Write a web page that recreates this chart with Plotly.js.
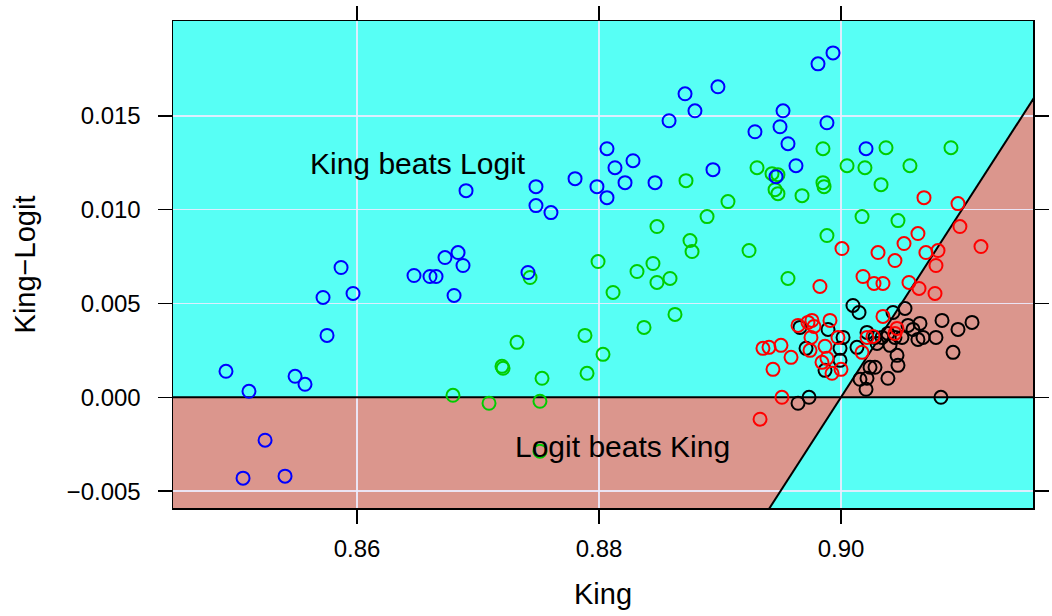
<!DOCTYPE html>
<html>
<head>
<meta charset="utf-8">
<script src="https://cdn.plot.ly/plotly-3.0.1.min.js"></script>
<style>html,body{margin:0;padding:0;background:#fff;}#chart{width:1052px;height:616px;}</style>
</head>
<body>
<div id="chart"></div>
<script>
// ---- data ----
const blueX = [0.86901,0.85868,0.86727,0.86835,0.86876,0.86471,0.86603,0.86653,0.86802,0.85719,0.85967,0.85752,0.84917,0.85107,0.85488,0.85570,0.85240,0.85058,0.85405,0.87413,0.88983,0.88711,0.88793,0.88579,0.88066,0.88281,0.88132,0.88942,0.87802,0.87479,0.87983,0.88215,0.88463,0.88066,0.87479,0.87603,0.89934,0.89810,0.89521,0.89496,0.89289,0.89884,0.89562,0.89628,0.90207,0.89463];
const blueY = [0.011011,0.006915,0.007447,0.007713,0.007021,0.006489,0.006436,0.006436,0.005426,0.005319,0.005532,0.003298,0.001383,0.000319,0.001117,0.000691,-0.002287,-0.004309,-0.004202,0.006649,0.016543,0.016170,0.015266,0.014734,0.013245,0.012606,0.012234,0.012128,0.011649,0.011223,0.011223,0.011436,0.011436,0.010638,0.010213,0.009840,0.018351,0.017766,0.015266,0.014415,0.014149,0.014628,0.013511,0.012340,0.013245,0.011755];

const greenX = [0.86793,0.87992,0.88314,0.88446,0.88479,0.88587,0.88752,0.88769,0.88116,0.88628,0.88372,0.87884,0.87322,0.88033,0.87198,0.87207,0.87529,0.87901,0.87091,0.87512,0.87512,0.87430,0.88719,0.89066,0.88893,0.88479,0.89851,0.90372,0.90909,0.89306,0.89430,0.89479,0.90050,0.90198,0.90570,0.89851,0.89860,0.90331,0.89455,0.89479,0.89678,0.90174,0.90471,0.89884,0.89240,0.89562];
const greenY = [0.000106,0.007234,0.006702,0.007128,0.006117,0.006330,0.008351,0.007766,0.005585,0.004415,0.003723,0.003298,0.002926,0.002287,0.001649,0.001543,0.001011,0.001277,-0.000319,-0.000213,-0.002872,0.006383,0.011543,0.010426,0.009628,0.009096,0.013245,0.013298,0.013298,0.012234,0.011915,0.011862,0.012340,0.012234,0.012340,0.011436,0.011223,0.011330,0.011064,0.010851,0.010745,0.009628,0.009415,0.008617,0.007819,0.006330];

const redX = [0.90686,0.90967,0.90983,0.90636,0.90521,0.90008,0.90306,0.90702,0.90802,0.91157,0.90446,0.90785,0.89826,0.90182,0.90273,0.90347,0.90562,0.90645,0.90777,0.90347,0.90463,0.90446,0.90264,0.90215,0.90174,0.89645,0.89727,0.89760,0.89777,0.89909,0.89752,0.89355,0.89405,0.89504,0.89587,0.89438,0.89868,0.89744,0.89884,0.89843,0.89926,0.90000,0.89975,0.89512,0.89331];
const redY = [0.010638,0.010319,0.009096,0.008723,0.008191,0.007926,0.007713,0.007713,0.007819,0.008032,0.007287,0.007021,0.005904,0.006436,0.006064,0.006064,0.006117,0.005798,0.005532,0.004309,0.003670,0.003404,0.003245,0.003191,0.002394,0.003830,0.003989,0.004096,0.003777,0.004096,0.003191,0.002606,0.002660,0.002766,0.002128,0.001489,0.002713,0.002500,0.002074,0.001862,0.001277,0.001489,0.003191,0.000000,-0.001170];

const blackX = [0.90099,0.90149,0.89661,0.89893,0.89711,0.90017,0.89992,0.89992,0.89868,0.90132,0.90215,0.90281,0.90339,0.90388,0.90430,0.90529,0.90554,0.90653,0.90835,0.91083,0.90967,0.90595,0.90678,0.90636,0.90785,0.90504,0.90446,0.90298,0.90405,0.90926,0.90463,0.90471,0.90240,0.90281,0.90388,0.90215,0.90157,0.90207,0.90826,0.89645,0.89736];
const blackY = [0.004894,0.004521,0.003723,0.003617,0.002606,0.003191,0.002606,0.001968,0.001436,0.002660,0.003457,0.003191,0.003191,0.003404,0.004521,0.004734,0.003830,0.003936,0.004096,0.003989,0.003617,0.003617,0.003191,0.003085,0.003191,0.003191,0.003191,0.002872,0.002766,0.002394,0.002234,0.001702,0.001596,0.001596,0.001011,0.001011,0.000957,0.000426,0.000000,-0.000319,0.000000];

const xTicks = [0.86, 0.88, 0.90];
const xTickText = ['0.86', '0.88', '0.90'];
const yTicks = [-0.005, 0, 0.005, 0.010, 0.015];
const yTickText = ['\u22120.005', '0.000', '0.005', '0.010', '0.015'];

const refOffset = 0.9;          // reference line: King-Logit = King - 0.9
const xRange = [0.84479, 0.91587];
const yRange = [-0.0059, 0.02005];

const labelTop = 'King beats Logit';
const labelBottom = 'Logit beats King';

// ---- drawing ----
const FONT = 'Liberation Sans, Arial, Helvetica, sans-serif';
const BG_CYAN = '#57FFF5';
const BROWN = '#DB968D';

function pts(x, y, color) {
  return {
    type: 'scatter', mode: 'markers', x: x, y: y, hoverinfo: 'x+y',
    marker: {symbol: 'circle-open', size: 13, color: color, line: {color: color, width: 2}},
    showlegend: false, cliponaxis: true
  };
}

const traces = [
  pts(blackX, blackY, '#000000'),
  pts(greenX, greenY, '#00CD00'),
  pts(redX, redY, '#FF0000'),
  pts(blueX, blueY, '#0000FF')
];

const x0 = xRange[0] - 0.01, x1 = xRange[1] + 0.01;
const y0 = yRange[0] - 0.01, y1 = yRange[1] + 0.01;
const xLow = y0 + refOffset;   // where ref line meets y0
const xHigh = x1;              // ref line at x1
const yHigh = x1 - refOffset;

const shapes = [
  {type: 'path', xref: 'x', yref: 'y', layer: 'below', fillcolor: BROWN, line: {width: 0},
   path: `M ${x0} ${y0} L ${x0} 0 L ${refOffset} 0 L ${xLow} ${y0} Z`},
  {type: 'path', xref: 'x', yref: 'y', layer: 'below', fillcolor: BROWN, line: {width: 0},
   path: `M ${refOffset} 0 L ${xHigh} ${yHigh} L ${x1} 0 Z`},
  {type: 'line', xref: 'x', yref: 'y', layer: 'between', x0: x0, x1: x1, y0: 0, y1: 0,
   line: {color: '#000', width: 2}},
  {type: 'line', xref: 'x', yref: 'y', layer: 'between', x0: xLow, y0: y0, x1: xHigh, y1: yHigh,
   line: {color: '#000', width: 2}}
];

const layout = {
  width: 1052, height: 616,
  margin: {l: 173, r: 19, t: 21, b: 108, pad: 0},
  paper_bgcolor: '#ffffff',
  plot_bgcolor: BG_CYAN,
  font: {family: FONT, color: '#000'},
  showlegend: false,
  xaxis: {
    range: xRange, tickmode: 'array', tickvals: xTicks, ticktext: xTickText,
    ticks: 'outside', ticklen: 14, tickwidth: 1.5, tickcolor: '#000',
    showline: true, linecolor: '#000', linewidth: 1.5, mirror: 'ticks',
    showgrid: true, gridcolor: 'rgba(236,236,255,0.9)', gridwidth: 1.5,
    zeroline: false, tickfont: {size: 24, family: FONT},
    ticklabelstandoff: 5,
    title: {text: 'King', font: {size: 29, family: FONT}, standoff: 22}
  },
  yaxis: {
    range: yRange, tickmode: 'array', tickvals: yTicks, ticktext: yTickText,
    ticks: 'outside', ticklen: 14, tickwidth: 1.5, tickcolor: '#000',
    showline: true, linecolor: '#000', linewidth: 1.5, mirror: 'ticks',
    showgrid: true, gridcolor: 'rgba(236,236,255,0.9)', gridwidth: 1.5,
    zeroline: false, tickfont: {size: 24, family: FONT},
    ticklabelstandoff: 12,
    title: {text: 'King\u2212Logit', font: {size: 29, family: FONT}, standoff: 22}
  },
  shapes: shapes,
  annotations: [
    {x: 0.86504, y: 0.012447, xref: 'x', yref: 'y', text: labelTop, showarrow: false,
     font: {size: 30, family: FONT, color: '#000'}, xanchor: 'center', yanchor: 'middle'},
    {x: 0.88198, y: -0.002606, xref: 'x', yref: 'y', text: labelBottom, showarrow: false,
     font: {size: 30, family: FONT, color: '#000'}, xanchor: 'center', yanchor: 'middle'}
  ]
};

Plotly.newPlot('chart', traces, layout, {displayModeBar: false, staticPlot: true});
</script>
</body>
</html>
